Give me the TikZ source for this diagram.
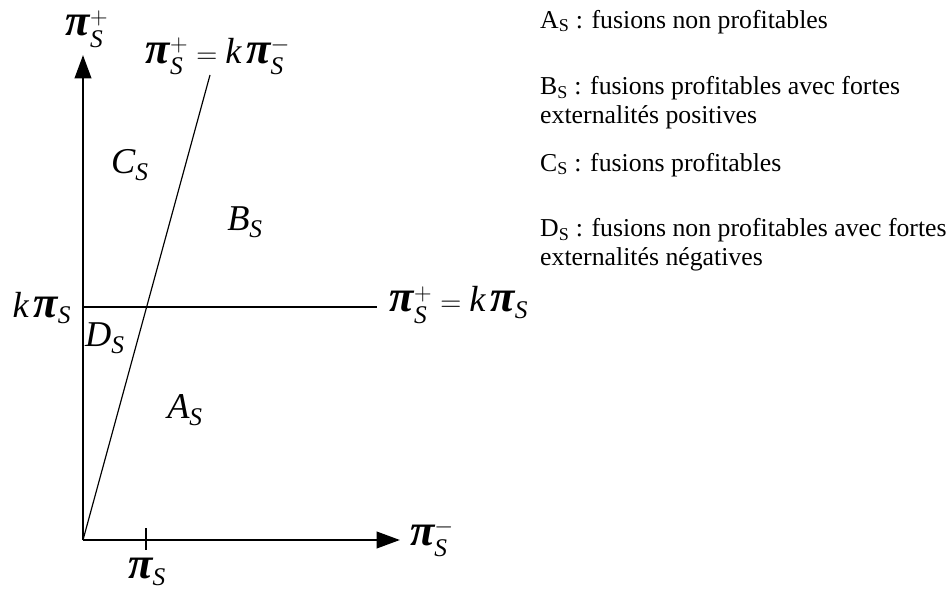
\documentclass[tikz,border=0pt]{standalone}
\usepackage{amsmath}
\usepackage{fontspec}
\setmainfont{Liberation Serif}
\usepackage{tikz}
\usetikzlibrary{arrows.meta}

\newcommand{\iS}{\mathit{S}}
\newcommand{\ik}{\mathit{k}\,}
\newcommand{\ppi}{\text{\fontsize{38}{38}\selectfont\bfseries\itshape π}}

\begin{document}
\begin{tikzpicture}[x=0.03cm, y=-0.03cm,
    axis/.style={line width=2.4pt, -{Triangle[length=20pt, width=14pt]}},
    thinline/.style={line width=1pt},
    lbl/.style={font=\fontsize{31}{34}\selectfont, inner sep=0pt},
    legend/.style={font=\fontsize{22}{25}\selectfont, anchor=west, align=left, inner sep=0pt}]
    \useasboundingbox (0,0) rectangle (946,594);

    % Axes
    \coordinate (O) at (83,540);
    \coordinate (ytop) at (83,55);
    \coordinate (xend) at (400,540);
    \draw[axis] (O) -- (ytop);
    \draw[axis] (O) -- (xend);

    % Tick on the horizontal axis
    \coordinate (t1) at (146,528);
    \coordinate (t2) at (146,550);
    \draw[thinline] (t1) -- (t2);

    % Lines
    \coordinate (diag) at (210,75);
    \coordinate (hstart) at (83,307);
    \coordinate (hend) at (377,307);
    \draw[thinline] (O) -- (diag);
    \draw[thinline] (hstart) -- (hend);

    % Axis labels
    \node[lbl] (yl) at (87,29) {$\ppi_{\iS}^{+}$};
    \node[lbl] (xl) at (432,538) {$\ppi_{\iS}^{-}$};
    \node[lbl] (tl) at (147,572) {$\ppi_{\iS}$};
    \node[lbl] (kl) at (42,308) {$\ik\ppi_{\iS}$};

    % Line labels
    \node[lbl] (dl) at (218,56) {$\ppi_{\iS}^{+}=\ik\ppi_{\iS}^{-}$};
    \node[lbl] (hl) at (459,305) {$\ppi_{\iS}^{+}=\ik\ppi_{\iS}$};

    % Regions
    \node[lbl] (C) at (130,165) {$\mathit{C}_{\iS}$};
    \node[lbl] (B) at (245,222) {$\mathit{B}_{\iS}$};
    \node[lbl] (D) at (105,338) {$\mathit{D}_{\iS}$};
    \node[lbl] (A) at (185,410) {$\mathit{A}_{\iS}$};

    % Legend
    \node[legend] (la) at (540,22) {A\textsubscript{S} : fusions non profitables};
    \node[legend] (lb) at (540,103) {B\textsubscript{S} : fusions profitables avec fortes\\externalités positives};
    \node[legend] (lc) at (540,165) {C\textsubscript{S} : fusions profitables};
    \node[legend] (ld) at (540,245) {D\textsubscript{S} : fusions non profitables avec fortes\\externalités négatives};
\end{tikzpicture}
\end{document}
